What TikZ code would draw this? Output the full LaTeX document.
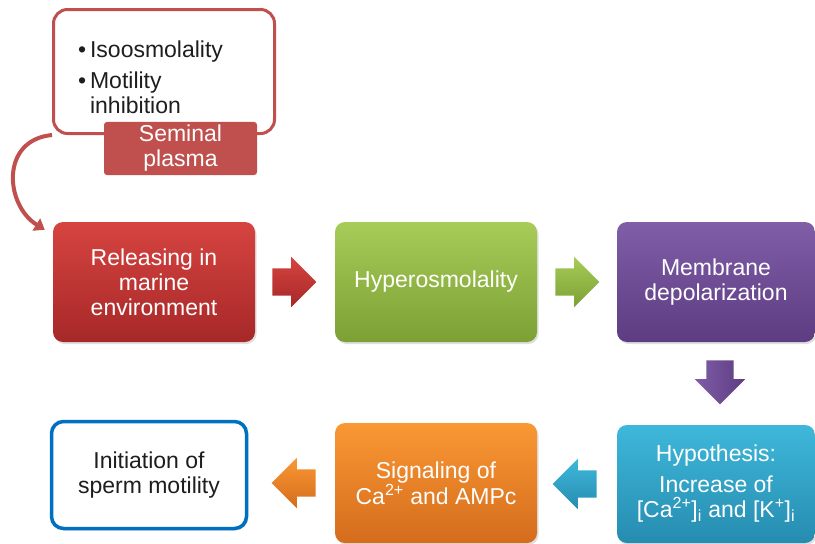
\documentclass[tikz,border=0pt]{standalone}
\usepackage{fontspec}
\setmainfont{Liberation Sans}
\usetikzlibrary{shapes.arrows,arrows.meta,shadows,calc}

\definecolor{semred}{RGB}{192,80,77}
\definecolor{redtop}{RGB}{214,68,64}
\definecolor{redbot}{RGB}{166,40,40}
\definecolor{grntop}{RGB}{168,204,88}
\definecolor{grnbot}{RGB}{124,160,52}
\definecolor{purtop}{RGB}{128,94,168}
\definecolor{purbot}{RGB}{94,60,130}
\definecolor{cyntop}{RGB}{62,184,218}
\definecolor{cynbot}{RGB}{38,140,176}
\definecolor{orgtop}{RGB}{250,152,52}
\definecolor{orgbot}{RGB}{212,108,28}
\definecolor{iniblue}{RGB}{0,112,192}
\definecolor{txtdark}{RGB}{30,30,30}

\tikzset{
  stage/.style={rounded corners=10pt,minimum width=202pt,minimum height=120pt,
    align=center,text=white,font=\fontsize{23}{25}\selectfont,
    drop shadow={opacity=0.25,shadow xshift=1.5pt,shadow yshift=-2pt}},
  blockarrow/.style={single arrow,minimum height=44pt,inner xsep=0pt,inner ysep=13.5pt,
    single arrow head extend=11.5pt,draw=none,anchor=tail}
}

\begin{document}
\begin{tikzpicture}[x=1pt,y=-1pt]
  \useasboundingbox (0,0) rectangle (815,544);

  \node[draw=semred,line width=3pt,rounded corners=14pt,minimum width=221pt,minimum height=124pt] (note) at (164,71.5) {}; %上の枠
  \node[text=txtdark,font=\fontsize{23}{25}\selectfont,inner sep=0pt,anchor=north west] (notetxt) at (78,39.5)
    {\begin{tabular}{@{}l@{\,}l@{}}\textbullet&Isoosmolality\\[6pt]\textbullet&Motility\\&inhibition\end{tabular}};
  \node[fill=semred,rounded corners=3pt,minimum width=153pt,minimum height=53pt,align=center,text=white,
    font=\fontsize{23}{25}\selectfont] (sem) at (180.5,148.5) {Seminal\\plasma};

  \node[stage,top color=redtop,bottom color=redbot] (rel) at (154,282) {Releasing in\\marine\\environment};
  \node[stage,top color=grntop,bottom color=grnbot] (hyp) at (436,282) {Hyperosmolality};
  \node[stage,top color=purtop,bottom color=purbot,minimum width=198pt] (mem) at (716,282) {Membrane\\depolarization};
  \node[stage,top color=cyntop,bottom color=cynbot,minimum width=198pt,minimum height=118pt] (hypo) at (716,484)
    {Hypothesis:\\[6pt]Increase of\\{}[Ca\textsuperscript{2+}]\textsubscript{i} and [K\textsuperscript{+}]\textsubscript{i}};
  \node[stage,top color=orgtop,bottom color=orgbot] (sig) at (436,483) {Signaling of\\Ca\textsuperscript{2+} and AMPc};
  \node[stage,fill=white,draw=iniblue,line width=3.5pt,text=txtdark,minimum width=195pt,minimum height=107pt,
    rounded corners=12pt] (ini) at (149,475) {Initiation of\\sperm motility};

  \node[blockarrow,top color=redtop,bottom color=redbot] (a1) at ($(rel.east)+(17,0)$) {}; %矢印
  \node[blockarrow,top color=grntop,bottom color=grnbot] (a2) at ($(hyp.east)+(18,0)$) {};
  \node[blockarrow,left color=purtop,right color=purbot,shape border rotate=270,
    inner xsep=13.5pt,inner ysep=0pt] (a3) at ($(mem.south)+(4,18)$) {};
  \node[blockarrow,top color=cyntop,bottom color=cynbot,shape border rotate=180] (a4) at ($(hypo.west)+(-20,0)$) {};
  \node[blockarrow,top color=orgtop,bottom color=orgbot,shape border rotate=180] (a5) at ($(sig.west)+(-19,0)$) {};

  \draw[semred,line width=4pt,-{Triangle[length=10pt,width=14pt]}] (note.south west)
    .. controls (0,140) and (5,205) .. ([xshift=-8pt,yshift=-8pt]rel.north west); %曲がった矢印
\end{tikzpicture}
\end{document}
